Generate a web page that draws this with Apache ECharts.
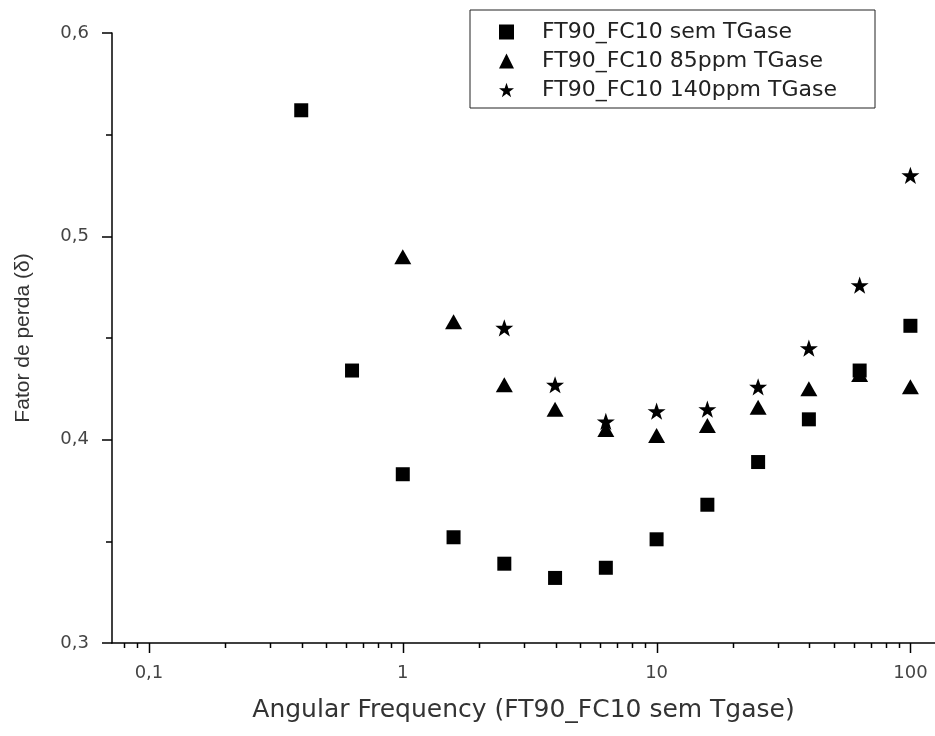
<!DOCTYPE html>
<html>
<head>
<meta charset="utf-8">
<script src="https://cdn.jsdelivr.net/npm/echarts@6/dist/echarts.min.js"></script>
<style>
  html, body { margin: 0; padding: 0; background: #fff; }
  #chart { width: 935px; height: 736px; }
</style>
</head>
<body>
<div id="chart"></div>
<script>
// angular frequency (log axis)
const freq = [0.398, 0.631, 1, 1.585, 2.512, 3.981, 6.31, 10, 15.85, 25.12, 39.81, 63.1, 100]
const freq85 = [1, 1.585, 2.512, 3.981, 6.31, 10, 15.85, 25.12, 39.81, 63.1, 100]
const freq140 = [2.512, 3.981, 6.31, 10, 15.85, 25.12, 39.81, 63.1, 100]

const semTGase = [0.562, 0.434, 0.383, 0.352, 0.339, 0.332, 0.337, 0.351, 0.368, 0.389, 0.410, 0.434, 0.456]
const tg85 = [0.490, 0.458, 0.427, 0.415, 0.405, 0.402, 0.407, 0.416, 0.425, 0.432, 0.426]
const tg140 = [0.455, 0.427, 0.409, 0.414, 0.415, 0.426, 0.445, 0.476, 0.530]

const seriesNames = ['FT90_FC10 sem TGase', 'FT90_FC10 85ppm TGase', 'FT90_FC10 140ppm TGase']
const xMajor = [0.1, 1, 10, 100]
const xMinor = [0.08, 0.09, 0.2, 0.3, 0.4, 0.5, 0.6, 0.7, 0.8, 0.9, 2, 3, 4, 5, 6, 7, 8, 9,
  20, 30, 40, 50, 60, 70, 80, 90]

const starPath = 'path://M50,0 L61.8,35.1 L97.6,35.1 L68.8,56.8 L79.4,91 L50,70 L20.6,91 L31.2,56.8 L2.4,35.1 L38.2,35.1 Z'

const pairs = (xs, ys) => xs.map((x, i) => [x, ys[i]])
const comma = v => String(v).replace('.', ',')

const chart = echarts.init(document.getElementById('chart'))

const markStyle = { color: '#000', opacity: 1 }

const option = {
  animation: false,
  backgroundColor: '#fff',
  grid: { left: 112, right: 0, top: 33, bottom: 93 },
  legend: {
    orient: 'vertical',
    left: 470,
    top: 10,
    padding: [11, 8, 7, 29],
    itemGap: 7,
    itemWidth: 15,
    itemHeight: 15,
    borderColor: '#222',
    borderWidth: 1,
    itemStyle: { opacity: 1 },
    textStyle: {
      fontFamily: 'DejaVu Sans',
      fontSize: 22,
      color: '#222',
      lineHeight: 20,
      width: 325,
      padding: [0, 0, 0, 23]
    },
    data: [
      { name: seriesNames[0], icon: 'rect' },
      { name: seriesNames[1], icon: 'triangle' },
      { name: seriesNames[2], icon: starPath }
    ]
  },
  xAxis: {
    type: 'log',
    logBase: 10,
    min: 0.0715,
    max: 125,
    name: 'Angular Frequency (FT90_FC10 sem Tgase)',
    nameLocation: 'middle',
    nameGap: 55,
    nameTextStyle: { fontFamily: 'DejaVu Sans', fontSize: 25, color: '#333' },
    axisLine: { lineStyle: { color: '#000', width: 1.5 } },
    axisTick: { show: false },
    splitLine: { show: false },
    axisLabel: {
      margin: 21,
      fontFamily: 'DejaVu Sans',
      fontSize: 18,
      color: '#444',
      showMinLabel: false,
      showMaxLabel: false,
      formatter: v => {
        const hit = xMajor.find(m => Math.abs(m - v) / m < 1e-6)
        return hit === undefined ? '' : comma(hit)
      }
    }
  },
  yAxis: {
    type: 'value',
    min: 0.3,
    max: 0.6,
    interval: 0.1,
    name: 'Fator de perda (δ)',
    nameLocation: 'middle',
    nameGap: 78,
    nameTextStyle: { fontFamily: 'Liberation Sans', fontSize: 21, color: '#333' },
    axisLine: { show: true, lineStyle: { color: '#000', width: 1.5 } },
    axisTick: { show: true, length: 10, lineStyle: { color: '#000', width: 1.5 } },
    minorTick: { show: true, splitNumber: 2, length: 6, lineStyle: { color: '#000', width: 1.5 } },
    splitLine: { show: false },
    axisLabel: {
      margin: 23,
      fontFamily: 'DejaVu Sans',
      fontSize: 18,
      color: '#444',
      formatter: v => comma(Math.round(v * 10) / 10)
    }
  },
  series: [
    {
      name: seriesNames[0],
      type: 'scatter',
      symbol: 'rect',
      symbolSize: 14,
      itemStyle: markStyle,
      data: pairs(freq, semTGase)
    },
    {
      name: seriesNames[1],
      type: 'scatter',
      symbol: 'triangle',
      symbolSize: [17, 15],
      itemStyle: markStyle,
      data: pairs(freq85, tg85)
    },
    {
      name: seriesNames[2],
      type: 'scatter',
      symbol: starPath,
      symbolKeepAspect: true,
      symbolSize: 18,
      itemStyle: markStyle,
      data: pairs(freq140, tg140)
    }
  ]
}

chart.setOption(option)

// log axis ticks (major at decades, minor at 2..9) placed through the axis scale
const y0 = chart.convertToPixel({ yAxisIndex: 0 }, 0.3)
const tick = (v, len) => {
  const x = Math.round(chart.convertToPixel({ xAxisIndex: 0 }, v)) + 0.5
  return {
    type: 'line',
    shape: { x1: x, y1: y0, x2: x, y2: y0 + len },
    style: { stroke: '#000', lineWidth: 1.5 },
    silent: true
  }
}
chart.setOption({
  graphic: [...xMajor.map(v => tick(v, 10)), ...xMinor.map(v => tick(v, 5))]
})
</script>
</body>
</html>
